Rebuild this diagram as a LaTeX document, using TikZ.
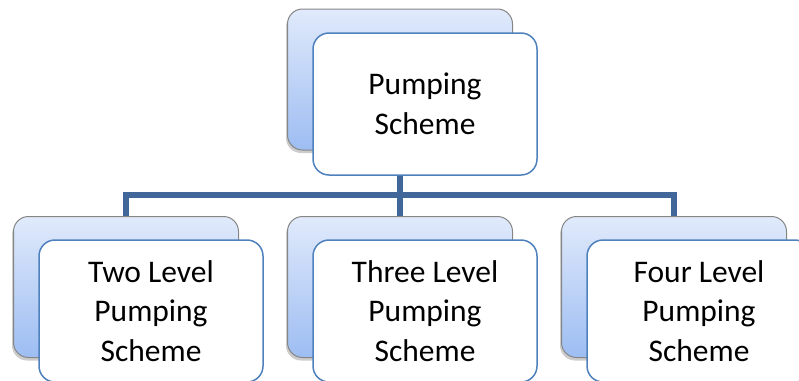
\documentclass[tikz,border=0pt]{standalone}
\usepackage{fontspec}
\setmainfont{Carlito}
\usetikzlibrary{shadows,backgrounds}

\definecolor{cardedge}{RGB}{79,129,189}
\definecolor{linkblue}{RGB}{65,103,154}
\definecolor{backtop}{RGB}{224,234,251}
\definecolor{backbot}{RGB}{157,189,242}

\tikzset{
  backcard/.style={rounded corners=15pt, draw=gray!95, line width=1pt,
    top color=backtop, bottom color=backbot, inner sep=0pt,
    minimum width=225pt, minimum height=141pt,
    drop shadow={opacity=0.4, shadow xshift=-1.5pt, shadow yshift=-3pt}},
  frontcard/.style={rounded corners=16pt, draw=cardedge, line width=1.5pt,
    fill=white, inner sep=0pt, minimum width=224pt, minimum height=142pt,
    align=center, font=\fontsize{31.5}{39.5}\selectfont},
  link/.style={draw=linkblue, line width=5.5pt}
}

\begin{document}
\begin{tikzpicture}[x=1pt, y=-1pt]
    \clip (0,0) rectangle (799,380);

    % shadow cards behind
    \node[backcard] (topback) at (400,79.5) {};
    \node[backcard] (twoback) at (126,287) {};
    \node[backcard] (threeback) at (400,287) {};
    \node[backcard] (fourback) at (674,287) {};

    % front cards with the labels
    \node[frontcard] (top) at (425,104) {Pumping\\Scheme};
    \node[frontcard] (two) at (151,311) {Two Level\\Pumping\\Scheme};
    \node[frontcard] (three) at (425,311) {Three Level\\Pumping\\Scheme};
    \node[frontcard] (four) at (699,311) {Four Level\\Pumping\\Scheme};

    % tree connectors
    \coordinate (bus) at (400,195);
    \begin{pgfonlayer}{background}
        \draw[link] (topback.center) -- (bus);
        \draw[link] (bus) -| (twoback.north);
        \draw[link] (bus) -| (fourback.north);
        \draw[link] (bus) -- (threeback.north);
    \end{pgfonlayer}
\end{tikzpicture}
\end{document}
